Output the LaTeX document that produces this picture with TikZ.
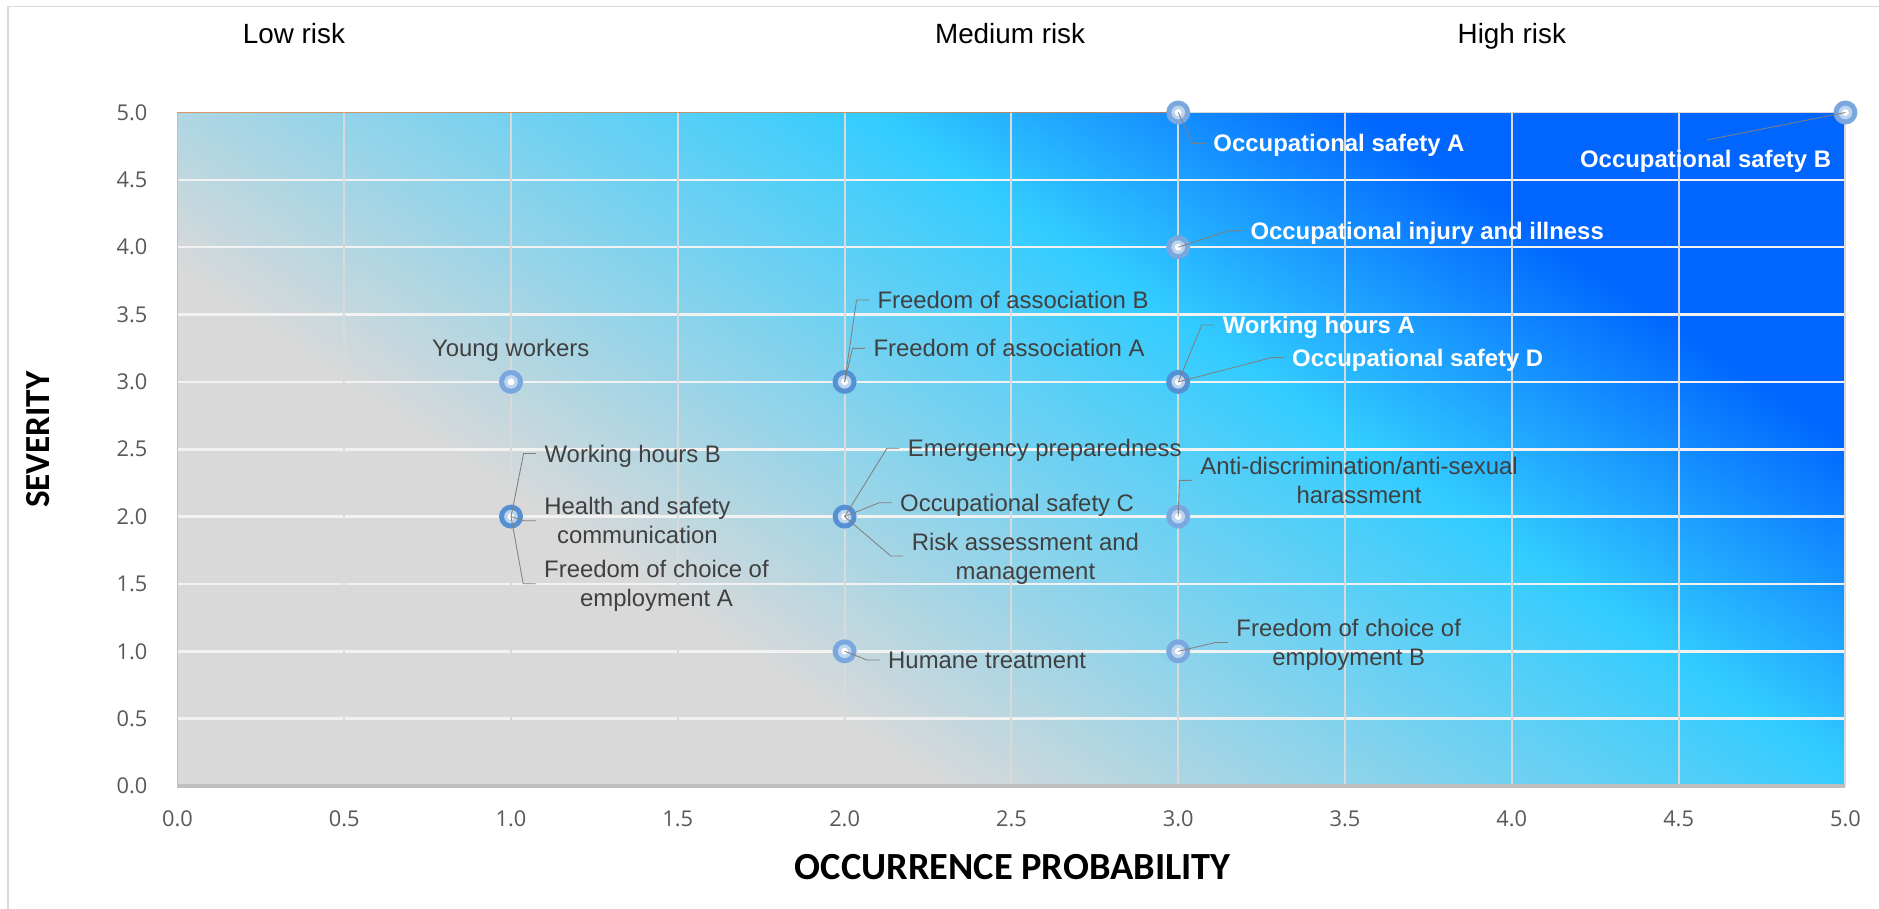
\documentclass[tikz,border=0pt]{standalone}
\usepackage{fontspec}
\setmainfont{Liberation Sans}
\newfontfamily\axisfont{Carlito}
\newfontfamily\tickfont{Open Sans}
\definecolor{riskgray}{RGB}{217,217,217}
\definecolor{riskcyan}{RGB}{51,204,255}
\definecolor{riskblue}{RGB}{0,102,255}
\definecolor{ringblue}{RGB}{122,168,222}
\definecolor{ringdark}{RGB}{84,144,212}
\definecolor{ringlight}{RGB}{188,212,238}
\definecolor{leadgray}{RGB}{128,128,128}
\definecolor{textgray}{RGB}{64,64,64}
\definecolor{tickgray}{RGB}{89,89,89}
\definecolor{gridgray}{RGB}{217,217,217}
\definecolor{gridwhite}{RGB}{242,242,242}
\definecolor{axisgray}{RGB}{191,191,191}
\definecolor{topline}{RGB}{237,125,49}
\pgfdeclarehorizontalshading{riskshade}{100bp}{color(0bp)=(riskgray); color(40.9bp)=(riskgray); color(55.7bp)=(riskcyan); color(63.6bp)=(riskblue); color(100bp)=(riskblue)}
\begin{document}
\begin{tikzpicture}[x=8.34cm,y=3.3675cm,
        dot/.style={circle,fill=ringblue,minimum size=0.6cm,inner sep=0pt,
            path picture={\fill[ringlight] (path picture bounding box.center) circle (0.17cm);
                \fill[white] (path picture bounding box.center) circle (0.085cm);}},
        dotdark/.style={dot,fill=ringdark},
        lab/.style={text=textgray,font=\fontsize{17}{20.5}\selectfont,inner xsep=5.9pt,inner ysep=0pt,
            text height=12.2pt,text depth=0pt,align=center},
        lab2/.style={lab,text height=32.7pt},
        hilab/.style={lab,text=white,font=\bfseries\fontsize{17}{20.5}\selectfont},
        risklab/.style={font=\fontsize{19.8}{24}\selectfont,inner sep=0pt,text height=14.2pt,text depth=0pt},
        ticklab/.style={text=tickgray,font=\tickfont\fontsize{15.5}{18}\selectfont,inner sep=0pt,text height=11pt,text depth=0pt},
        axislab/.style={font=\axisfont\bfseries\fontsize{25}{30}\selectfont,inner sep=0pt},
        lead/.style={draw=leadgray,line width=0.6pt}]
    \useasboundingbox[fill=white] (-0.5318,-0.9131) rectangle (5.1007,5.8352);
    % Chart frame
    \draw[gridgray,line width=1.2pt] (-0.507,-0.9131) -- (-0.507,5.786) -- (5.1007,5.786);
    % Risk background
    \begin{scope}
        \clip (0,0) rectangle (5,5);
        \shade[shading=riskshade,shading angle=56] (2.5,2.5) ++(-22cm,-22cm) rectangle ++(44cm,44cm);
    \end{scope}
    % Grid and axes
    \foreach \g in {0.5,1,...,4.5}
        \draw[gridwhite,line width=1.8pt] (0,\g) -- (5,\g);
    \foreach \g in {0.5,1,...,5}
        \draw[gridgray,line width=1.4pt] (\g,0) -- (\g,5);
    \draw[axisgray,line width=1.2pt] (0,0) -- (0,5);
    \draw[axisgray,line width=2.2pt] (0,0) -- (5,0);
    \draw[topline,opacity=0.7,line width=1.2pt] (0,5) -- (3,5);
    \draw[gridgray,line width=1.2pt] (3,5) -- (5,5);
    \foreach \v in {0,0.5,...,5} {
        \node[ticklab,anchor=east] (ty\v) at (-0.089,\v) {\pgfmathprintnumber[fixed,fixed zerofill,precision=1,assume math mode=true]{\v}};
        \node[ticklab] (tx\v) at (\v,-0.240) {\pgfmathprintnumber[fixed,fixed zerofill,precision=1,assume math mode=true]{\v}};
    }
    \node[axislab,rotate=90] (sev) at (-0.417,2.571) {SEVERITY};
    \node[axislab,font=\axisfont\bfseries\fontsize{27.3}{32}\selectfont] (occ) at (2.504,-0.599) {OCCURRENCE PROBABILITY};
    % Risk levels
    \node[risklab] (low) at (0.3495,5.588) {Low risk};
    \node[risklab] (med) at (2.496,5.588) {Medium risk};
    \node[risklab] (high) at (4.0,5.588) {High risk};
    % Points
    \node[dot] (p13) at (1,3) {};
    \node[dotdark] (p12) at (1,2) {};
    \node[dotdark] (p23) at (2,3) {};
    \node[dotdark] (p22) at (2,2) {};
    \node[dot] (p21) at (2,1) {};
    \node[dot] (p35) at (3,5) {};
    \node[dot] (p55) at (5,5) {};
    \node[dot] (p34) at (3,4) {};
    \node[dotdark] (p33) at (3,3) {};
    \node[dot] (p32) at (3,2) {};
    \node[dot] (p31) at (3,1) {};
    % Low column labels
    \node[lab] (yng) at (0.999,3.250) {Young workers};
    \node[lab,anchor=west] (whB) at (1.075,2.469) {Working hours B};
    \node[lab2] (hsc) at (1.379,1.969) {Health and safety\\communication};
    \node[lab2] (fcA) at (1.436,1.501) {Freedom of choice of\\employment A};
    % Medium column labels
    \node[lab,anchor=west] (faB) at (2.073,3.608) {Freedom of association B};
    \node[lab,anchor=west] (faA) at (2.061,3.249) {Freedom of association A};
    \node[lab,anchor=west] (emP) at (2.164,2.507) {Emergency preparedness};
    \node[lab,anchor=west] (osC) at (2.141,2.103) {Occupational safety C};
    \node[lab2] (ram) at (2.542,1.707) {Risk assessment and\\management};
    \node[lab,anchor=west] (hum) at (2.105,0.935) {Humane treatment};
    % High column labels
    \node[hilab,anchor=west] (osA) at (3.080,4.771) {Occupational safety A};
    \node[hilab] (osB) at (4.581,4.655) {Occupational safety B};
    \coordinate (osBend) at (4.585,4.796);
    \node[hilab,anchor=west] (oii) at (3.191,4.123) {Occupational injury and illness};
    \node[hilab,anchor=west] (whA) at (3.108,3.422) {Working hours A};
    \node[hilab,anchor=west] (osD) at (3.316,3.180) {Occupational safety D};
    \node[lab2] (ads) at (3.542,2.269) {Anti-discrimination/anti-sexual\\harassment};
    \node[lab2] (fcB) at (3.511,1.065) {Freedom of choice of\\employment B};
    % Leaders
    \foreach \p/\l in {p12/whB,p12/hsc,p12/fcA,p23/faB,p23/faA,p22/emP,p22/osC,p22/ram,p21/hum,
            p35/osA,p34/oii,p33/whA,p33/osD,p32/ads,p31/fcB}
        \draw[lead] (\p.center) -- ([xshift=-0.31cm]\l.west) -- (\l.west);
    \draw[lead] (p55.center) -- (osBend);
\end{tikzpicture}
\end{document}
